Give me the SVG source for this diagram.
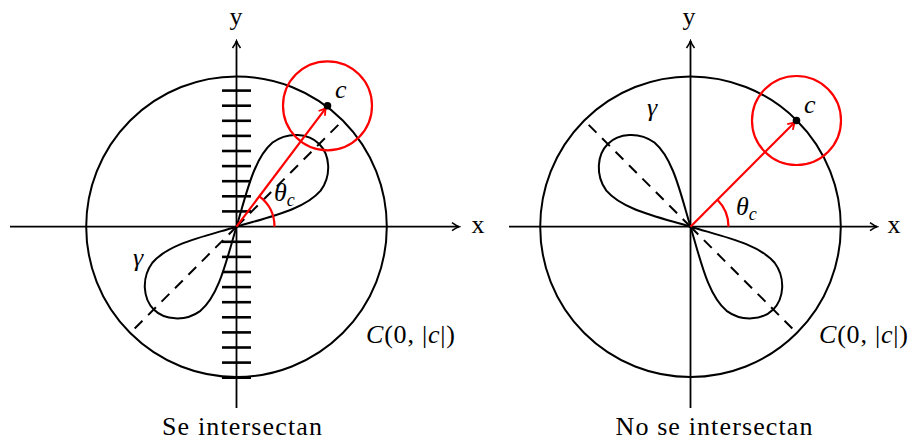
<svg xmlns="http://www.w3.org/2000/svg" width="911" height="441" viewBox="0 0 911 441">
<style>
.ax{stroke:#000;stroke-width:1.8;fill:none}
.circ{stroke:#000;stroke-width:2;fill:none}
.lobe{stroke:#000;stroke-width:2;fill:none;stroke-linejoin:round}
.dash{stroke:#000;stroke-width:2;stroke-dasharray:11 8;fill:none}
.tick{stroke:#000;stroke-width:2.6}
.red{stroke:#f00;stroke-width:2.2;fill:none}
text{font-family:"Liberation Serif","Times New Roman",serif;font-size:26px;fill:#000}
.it{font-style:italic}
</style>
<defs>
<marker id="ah" viewBox="-10 -6 12 12" markerWidth="12" markerHeight="12" refX="0" refY="0" orient="auto" markerUnits="userSpaceOnUse"><path d="M-7,-4 Q-2.5,-0.8 0,0 Q-2.5,0.8 -7,4" stroke="#000" stroke-width="1.6" fill="none"/></marker>
<marker id="ahr" viewBox="-10 -6 12 12" markerWidth="12" markerHeight="12" refX="0" refY="0" orient="auto" markerUnits="userSpaceOnUse"><path d="M-7,-4 Q-2.5,-0.8 0,0 Q-2.5,0.8 -7,4" stroke="#f00" stroke-width="1.8" fill="none"/></marker>
<path id="lb" d="M0,0 C30,16 60,36 85,34 C104,31 117,15 117,0 C117,-15 104,-31 85,-34 C60,-36 30,-16 0,0 Z"/>
</defs>

<!-- Left diagram -->
<g id="left">
  <g id="left-axes">
    <line class="ax" x1="10" y1="226.7" x2="459" y2="226.7" marker-end="url(#ah)"/>
    <line class="ax" x1="236.5" y1="408" x2="236.5" y2="41" marker-end="url(#ah)"/>
    <text x="236" y="25" text-anchor="middle">y</text>
    <text x="478" y="233" text-anchor="middle">x</text>
  </g>
  <g id="left-big-circle">
    <circle class="circ" cx="236.5" cy="226.7" r="150.3"/>
    <text x="366" y="343" textLength="89" lengthAdjust="spacing"><tspan class="it">C</tspan>(0, |<tspan class="it">c</tspan>|)</text>
  </g>
  <g id="left-ticks">
    <line class="tick" x1="222" x2="251" y1="90.6" y2="90.6"/>
    <line class="tick" x1="222" x2="251" y1="105.7" y2="105.7"/>
    <line class="tick" x1="222" x2="251" y1="120.8" y2="120.8"/>
    <line class="tick" x1="222" x2="251" y1="135.9" y2="135.9"/>
    <line class="tick" x1="222" x2="251" y1="151" y2="151"/>
    <line class="tick" x1="222" x2="251" y1="166.1" y2="166.1"/>
    <line class="tick" x1="222" x2="251" y1="181.2" y2="181.2"/>
    <line class="tick" x1="222" x2="251" y1="196.3" y2="196.3"/>
    <line class="tick" x1="222" x2="251" y1="211.4" y2="211.4"/>
    <line class="tick" x1="222" x2="251" y1="241.8" y2="241.8"/>
    <line class="tick" x1="222" x2="251" y1="256.9" y2="256.9"/>
    <line class="tick" x1="222" x2="251" y1="272" y2="272"/>
    <line class="tick" x1="222" x2="251" y1="287.1" y2="287.1"/>
    <line class="tick" x1="222" x2="251" y1="302.2" y2="302.2"/>
    <line class="tick" x1="222" x2="251" y1="317.3" y2="317.3"/>
    <line class="tick" x1="222" x2="251" y1="332.4" y2="332.4"/>
    <line class="tick" x1="222" x2="251" y1="347.5" y2="347.5"/>
    <line class="tick" x1="222" x2="251" y1="362.6" y2="362.6"/>
    <line class="tick" x1="222" x2="251" y1="377.7" y2="377.7"/>
  </g>
  <g id="left-gamma">
    <line class="dash" x1="236.5" y1="226.7" x2="342.8" y2="120.4"/>
    <line class="dash" x1="236.5" y1="226.7" x2="130.2" y2="333"/>
    <use href="#lb" class="lobe" transform="translate(236.5,226.7) rotate(-45)"/>
    <use href="#lb" class="lobe" transform="translate(236.5,226.7) rotate(135)"/>
    <text x="138" y="266" text-anchor="middle" class="it">γ</text>
  </g>
  <g id="left-c">
    <circle class="red" cx="327.5" cy="105.8" r="44.5"/>
    <path class="red" d="M274.5,226.7 A38,38 0 0 0 259.4,196.4"/>
    <line class="red" x1="236.5" y1="226.7" x2="326" y2="107.8" marker-end="url(#ahr)"/>
    <circle cx="327.5" cy="105.8" r="3.8" fill="#000"/>
    <text x="335" y="98" class="it">c</text>
    <text x="274" y="201" class="it">θ<tspan font-size="18" dy="5">c</tspan></text>
  </g>
  <text x="242" y="435" text-anchor="middle" textLength="160" lengthAdjust="spacing">Se intersectan</text>
</g>

<!-- Right diagram -->
<g id="right">
  <g id="right-axes">
    <line class="ax" x1="509" y1="226.7" x2="877" y2="226.7" marker-end="url(#ah)"/>
    <line class="ax" x1="690.5" y1="408" x2="690.5" y2="41" marker-end="url(#ah)"/>
    <text x="689" y="25" text-anchor="middle">y</text>
    <text x="894" y="233" text-anchor="middle">x</text>
  </g>
  <g id="right-big-circle">
    <circle class="circ" cx="690.5" cy="226.7" r="150.3"/>
    <text x="819" y="343" textLength="89" lengthAdjust="spacing"><tspan class="it">C</tspan>(0, |<tspan class="it">c</tspan>|)</text>
  </g>
  <g id="right-gamma">
    <line class="dash" x1="690.5" y1="226.7" x2="584.2" y2="120.4"/>
    <line class="dash" x1="690.5" y1="226.7" x2="796.8" y2="333"/>
    <use href="#lb" class="lobe" transform="translate(690.5,226.7) rotate(-135)"/>
    <use href="#lb" class="lobe" transform="translate(690.5,226.7) rotate(45)"/>
    <text x="652" y="116" text-anchor="middle" class="it">γ</text>
  </g>
  <g id="right-c">
    <circle class="red" cx="796.5" cy="120.5" r="44.5"/>
    <path class="red" d="M728.5,226.7 A38,38 0 0 0 717.4,199.8"/>
    <line class="red" x1="690.5" y1="226.7" x2="795" y2="122" marker-end="url(#ahr)"/>
    <circle cx="796.5" cy="120.5" r="3.8" fill="#000"/>
    <text x="804" y="113" class="it">c</text>
    <text x="736" y="215" class="it">θ<tspan font-size="18" dy="5">c</tspan></text>
  </g>
  <text x="714" y="435" text-anchor="middle" textLength="197" lengthAdjust="spacing">No se intersectan</text>
</g>
</svg>
